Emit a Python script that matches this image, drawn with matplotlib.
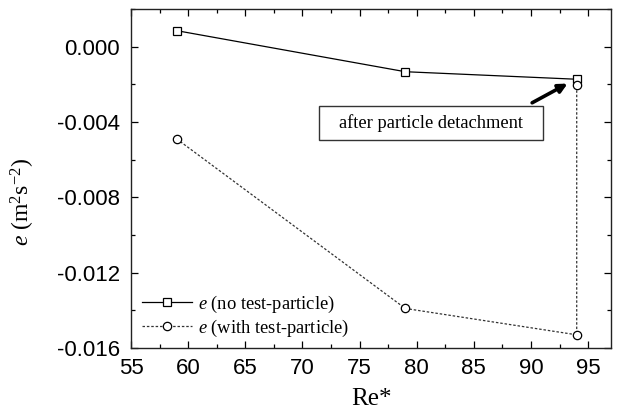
import matplotlib
matplotlib.use("Agg")
import matplotlib.pyplot as plt
from matplotlib.ticker import MultipleLocator, FormatStrFormatter
from matplotlib.patches import Rectangle

plt.rcParams['mathtext.fontset'] = 'custom'
plt.rcParams['mathtext.rm'] = 'Liberation Serif'
plt.rcParams['mathtext.it'] = 'Liberation Serif:italic'

re_no = [59, 79, 94]
e_no = [0.00085, -0.00133, -0.00173]
re_with = [59, 79, 94, 94]
e_with = [-0.0049, -0.0139, -0.0153, -0.00203]

fig = plt.figure(figsize=(6.27, 4.15), dpi=100)
ax = fig.add_axes([131/627, 1-348/415, (611-131)/627, (348-9)/415])

ax.plot(re_no, e_no, '-', color='black', lw=0.9, marker='s', ms=5.5,
        mfc='white', mec='black', mew=0.9, label=r'$e$ (no test-particle)')
ax.plot(re_with, e_with, linestyle=(0, (2, 1.5)), color='#333333', lw=0.9, marker='o', ms=6,
        mfc='white', mec='black', mew=0.9, label=r'$e$ (with test-particle)')

ax.set_xlim(55, 97)
ax.set_ylim(-0.016, 0.002)
ax.xaxis.set_major_locator(MultipleLocator(5))
ax.xaxis.set_minor_locator(MultipleLocator(2.5))
ax.yaxis.set_major_locator(MultipleLocator(0.004))
ax.yaxis.set_minor_locator(MultipleLocator(0.002))
ax.yaxis.set_major_formatter(FormatStrFormatter('%.3f'))
ax.tick_params(which='both', direction='in', top=True, right=True, width=0.9)
ax.tick_params(which='major', length=5, labelsize=16)
ax.tick_params(axis='y', which='major', pad=8)
ax.tick_params(axis='x', which='major', pad=7)
ax.tick_params(which='minor', length=3)
for lab in ax.get_xticklabels() + ax.get_yticklabels():
    lab.set_fontfamily('Liberation Sans')
for s in ax.spines.values():
    s.set_linewidth(1.0)
    s.set_color('#222222')

ax.set_xlabel('Re*', fontfamily='Liberation Serif', fontsize=18, labelpad=7)
ax.set_ylabel(r'$e$ (m$^2$s$^{-2}$)', fontfamily='Liberation Serif', fontsize=17)
ax.yaxis.set_label_coords(-0.195, 0.43)

# annotation box
ax.add_patch(Rectangle((71.45, -0.004975), 19.6, 0.00185, fill=True, fc='white',
                       ec='#333333', lw=1.0, zorder=3))
ax.text(81.25, -0.00407, 'after particle detachment', fontfamily='Liberation Serif',
        fontsize=13.3, ha='center', va='center', zorder=4)
ax.annotate('', xy=(93.2, -0.00196), xytext=(90.1, -0.00298),
            arrowprops=dict(arrowstyle='-|>', color='black', lw=2.6, mutation_scale=13,
                            shrinkA=0, shrinkB=0), zorder=4)

leg = ax.legend(loc='lower left', frameon=False, prop={'family': 'Liberation Serif', 'size': 13.3},
                handlelength=2.7, handletextpad=0.35, borderaxespad=0.2, labelspacing=0.15,
                bbox_to_anchor=(0.0, -0.005))

fig.savefig('out.png', dpi=100)
